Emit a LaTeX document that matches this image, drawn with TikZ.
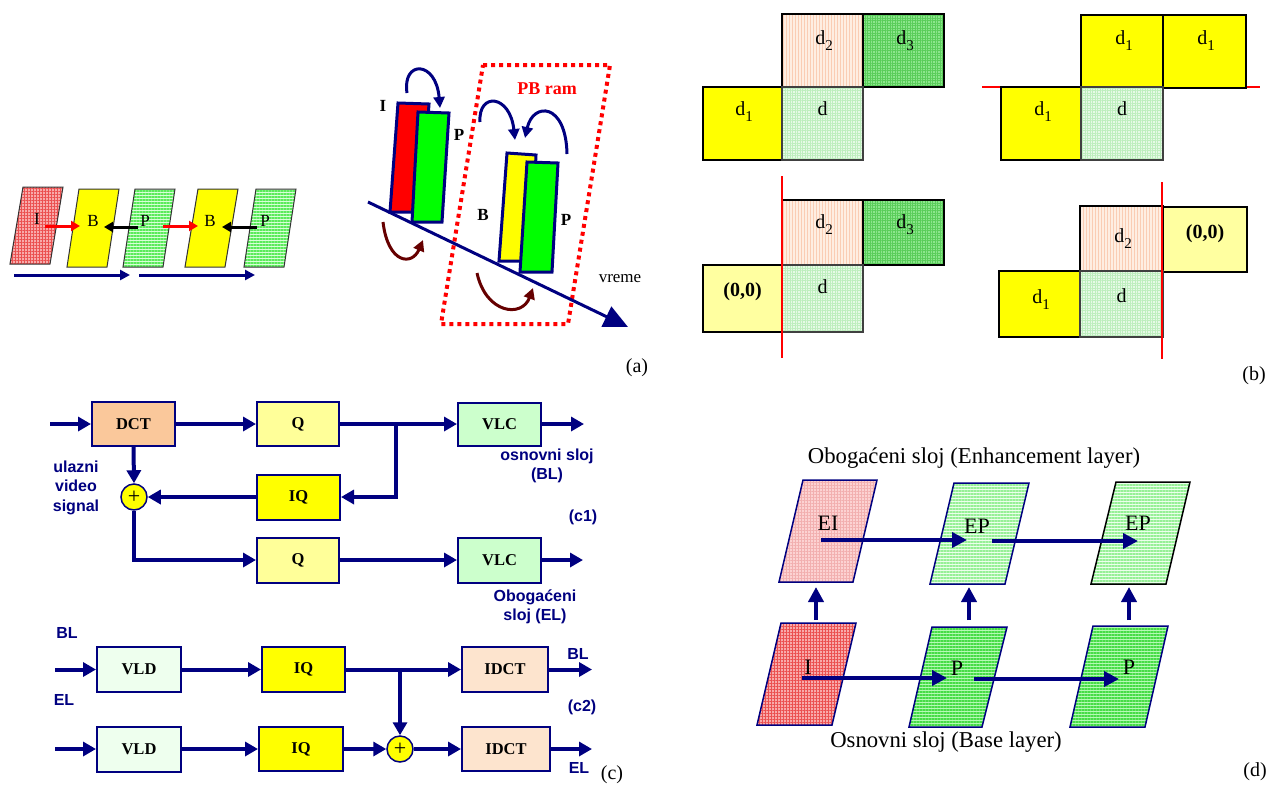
\documentclass[tikz,border=0pt]{standalone}
\usepackage{fontspec}
\setmainfont{Liberation Serif}
\setsansfont{Liberation Sans}
\usetikzlibrary{arrows.meta,patterns.meta}
\definecolor{navy}{RGB}{0,0,128}
\definecolor{brn}{RGB}{102,0,0}
\definecolor{cDCT}{RGB}{250,200,155}
\definecolor{cQ}{RGB}{255,255,153}
\definecolor{cVLC}{RGB}{204,255,204}
\definecolor{cVLD}{RGB}{238,255,238}
\definecolor{cIDCT}{RGB}{253,228,206}
\definecolor{yel}{RGB}{255,255,0}
\definecolor{lyel}{RGB}{255,255,160}
\definecolor{grn}{RGB}{0,255,0}
\definecolor{rd}{RGB}{255,0,0}
\definecolor{pinkA}{RGB}{248,170,170}
\definecolor{pinkAl}{RGB}{235,80,80}
\definecolor{pinkB}{RGB}{252,210,210}
\definecolor{pinkL}{RGB}{242,175,175}
\definecolor{gLt}{RGB}{215,255,215}
\definecolor{gLn}{RGB}{90,235,90}
\definecolor{gEP}{RGB}{235,255,235}
\definecolor{gEPl}{RGB}{150,240,150}
\definecolor{gP}{RGB}{180,250,180}
\definecolor{gPl}{RGB}{70,220,70}
\definecolor{peach}{RGB}{254,238,226}
\definecolor{peachL}{RGB}{250,205,180}
\definecolor{gD3}{RGB}{140,230,140}
\definecolor{gD3l}{RGB}{90,205,90}
\definecolor{gD}{RGB}{230,250,230}
\definecolor{gDl}{RGB}{190,238,190}
\newcommand{\dsub}[1]{d\raisebox{-6pt}{\fontsize{15}{15}\selectfont #1}}
\tikzset{
  txt/.style={inner sep=0pt, font=\fontsize{#1}{#1}\selectfont},
  btxt/.style={inner sep=0pt, font=\fontsize{#1}{#1}\selectfont\bfseries},
  blab/.style={inner sep=0pt, text=navy, align=center, font=\fontsize{16}{19.5}\selectfont\sffamily\bfseries},
  cbox/.style={draw=navy, line width=2pt, inner sep=0pt, font=\fontsize{16.5}{16.5}\selectfont\bfseries},
  sumn/.style={circle, draw=navy, line width=1.5pt, fill=yel, minimum size=26pt, inner sep=0pt, font=\fontsize{22}{22}\selectfont},
  nv/.style={draw=navy, line width=4pt, -{Triangle[length=13pt,width=14pt]}},
  nvd/.style={draw=navy, line width=4pt, -{Triangle[length=15pt,width=15pt]}},
  ra/.style={draw=rd, line width=3pt, -{Triangle[length=9pt,width=10pt]}},
  ka/.style={draw=black, line width=3pt, -{Triangle[length=9pt,width=10pt]}},
  ba/.style={draw=navy, line width=3pt, -{Triangle[length=10pt,width=10pt]}},
  ca/.style={line width=3pt, -{Triangle[length=11pt,width=11pt]}},
  para/.style={draw=black!80, line width=1pt},
  paran/.style={draw=navy, line width=1.5pt},
  frm/.style={draw=navy, line width=3pt},
  matI/.style={preaction={fill=pinkA}, preaction={pattern={Hatch[distance=3pt,line width=0.6pt]}, pattern color=pinkAl}},
  matEI/.style={preaction={fill=pinkB}, preaction={pattern={Hatch[distance=3pt,line width=0.5pt]}, pattern color=pinkL}},
  matPa/.style={preaction={fill=gLt}, preaction={pattern={Lines[angle=0,distance=3pt,line width=1.4pt]}, pattern color=gLn}},
  matEP/.style={preaction={fill=gEP}, preaction={pattern={Lines[angle=0,distance=3pt,line width=1.1pt]}, pattern color=gEPl}},
  matP/.style={preaction={fill=gP}, preaction={pattern={Lines[angle=0,distance=3pt,line width=1.4pt]}, pattern color=gPl}},
  matD2/.style={preaction={fill=peach}, preaction={pattern={Lines[angle=90,distance=3pt,line width=0.9pt]}, pattern color=peachL}},
  matD3/.style={preaction={fill=gD3}, preaction={pattern={Hatch[distance=2.5pt,line width=0.5pt]}, pattern color=gD3l}},
  matD/.style={preaction={fill=gD}, preaction={pattern={Hatch[distance=2.5pt,line width=0.5pt]}, pattern color=gDl}},
  bx/.style={draw=black, line width=2.2pt, inner sep=0pt},
  bxd/.style={draw=black!75, line width=1.6pt, inner sep=0pt},
  redl/.style={draw=rd, line width=1.5pt},
}
\begin{document}
\begin{tikzpicture}[x=1pt,y=-1pt]
\useasboundingbox (0,0) rectangle (1272,788);

% ================= (a) left =================
\path[para,matI]  (23,187) -- (63,187) -- (50,264) -- (10,264) -- cycle;
\path[para,fill=yel] (79,189) -- (119,189) -- (107,267) -- (67,267) -- cycle;
\path[para,matPa] (135,189) -- (175,189) -- (163,267) -- (123,267) -- cycle;
\path[para,fill=yel] (198,189) -- (238,189) -- (225,267) -- (185,267) -- cycle;
\path[para,matPa] (256,189) -- (296,189) -- (284,267) -- (244,267) -- cycle;
\node[txt=17] (lI) at (37,219) {I};
\node[txt=17] (lB1) at (93,221) {B};
\node[txt=17] (lP1) at (145,221) {P};
\node[txt=17] (lB2) at (210,221) {B};
\node[txt=17] (lP2) at (265,221) {P};
\coordinate (r1s) at (45,226); \coordinate (r1e) at (80,226);
\coordinate (r2s) at (163,226); \coordinate (r2e) at (198,226);
\coordinate (k1s) at (138,227); \coordinate (k1e) at (104,227);
\coordinate (k2s) at (257,227); \coordinate (k2e) at (222,227);
\draw[ra] (r1s) -- (r1e);
\draw[ra] (r2s) -- (r2e);
\draw[ka] (k1s) -- (k1e);
\draw[ka] (k2s) -- (k2e);
\coordinate (b1s) at (14,275); \coordinate (b1e) at (130,275);
\coordinate (b2s) at (139,275); \coordinate (b2e) at (255,275);
\draw[ba] (b1s) -- (b1e);
\draw[ba] (b2s) -- (b2e);

% ================= (a) right =================
\draw[rd, line width=4pt, dash pattern=on 4pt off 4pt] (483,65) -- (610,65) -- (568,324) -- (441,324) -- cycle;
\coordinate (t0) at (368,202); \coordinate (t1) at (628,327);
\draw[draw=navy, line width=3pt, -{Triangle[length=24pt,width=22pt]}] (t0) -- (t1);
\path[frm, fill=rd] (398,103) -- (429,104) -- (421,212) -- (390,212) -- cycle;
\path[frm, fill=grn] (418,112) -- (449,113) -- (442,222) -- (412,222) -- cycle;
\path[frm, fill=yel] (507,153) -- (536,155) -- (531,261) -- (499,261) -- cycle;
\path[frm, fill=grn] (527,162) -- (558,163) -- (552,272) -- (520,272) -- cycle;
\node[btxt=17] (aI) at (383,106) {I};
\node[btxt=17] (aP1) at (459,135) {P};
\node[btxt=17] (aB) at (483,215) {B};
\node[btxt=17] (aP2) at (566,220) {P};
\node[btxt=18, text=rd] (pbram) at (547,89) {PB ram};
\node[txt=17] (vreme) at (620,279) {vreme};
\node[txt=20] (la) at (637,368) {(a)};
\coordinate (u1s) at (407,93); \coordinate (u1e) at (440,108);
\coordinate (u2s) at (480,122); \coordinate (u2e) at (515,140);
\coordinate (u3s) at (567,154); \coordinate (u3e) at (525,138);
\draw[ca, navy] (u1s) .. controls (402,60) and (436,60) .. (u1e);
\draw[ca, navy] (u2s) .. controls (478,92) and (510,94) .. (u2e);
\draw[ca, navy] (u3s) .. controls (566,102) and (533,102) .. (u3e);
\coordinate (w1s) at (383,222); \coordinate (w1e) at (423,240);
\coordinate (w2s) at (477,273); \coordinate (w2e) at (533,288);
\draw[ca, brn] (w1s) .. controls (388,264) and (412,266) .. (w1e);
\draw[ca, brn] (w2s) .. controls (486,314) and (522,318) .. (w2e);

% ================= (b) =================
% top-left
\node[bx, matD2, minimum width=81pt, minimum height=73pt] (A2) at (822.5,50.5) {};
\node[bx, matD3, minimum width=81pt, minimum height=73pt] (A3) at (903.5,50.5) {};
\node[bx, fill=yel, minimum width=79pt, minimum height=73pt] (A1) at (742.5,123.5) {};
\node[bxd, matD, minimum width=81pt, minimum height=73pt] (A0) at (822.5,123.5) {};
\node[txt=20, anchor=base] (A2l) at (824,44) {\dsub{2}};
\node[txt=20, anchor=base] (A3l) at (905,44) {\dsub{3}};
\node[txt=20, anchor=base] (A1l) at (744,115) {\dsub{1}};
\node[txt=20, anchor=base] (A0l) at (822.5,115) {d};
% top-right
\draw[redl] (982,87) -- (1260,87);
\node[bx, fill=yel, minimum width=82pt, minimum height=72pt] (B1a) at (1122,51) {};
\node[bx, fill=yel, minimum width=83pt, minimum height=73pt] (B1b) at (1204.5,51.5) {};
\node[bx, fill=yel, minimum width=80pt, minimum height=73pt] (B1c) at (1041,123.5) {};
\node[bxd, matD, minimum width=82pt, minimum height=73pt] (B0) at (1122,123.5) {};
\node[txt=20, anchor=base] (B1al) at (1124,44) {\dsub{1}};
\node[txt=20, anchor=base] (B1bl) at (1206,44) {\dsub{1}};
\node[txt=20, anchor=base] (B1cl) at (1043,115) {\dsub{1}};
\node[txt=20, anchor=base] (B0l) at (1122,115) {d};
% bottom-left
\node[bx, matD2, minimum width=81pt, minimum height=65pt] (C2) at (822.5,232.5) {};
\node[bx, matD3, minimum width=81pt, minimum height=65pt] (C3) at (903.5,232.5) {};
\node[bx, fill=lyel, minimum width=79pt, minimum height=67pt] (C1) at (742.5,298.5) {};
\node[bxd, matD, minimum width=81pt, minimum height=67pt] (C0) at (822.5,298.5) {};
\draw[redl] (782,176) -- (782,358);
\node[txt=20, anchor=base] (C2l) at (824,228) {\dsub{2}};
\node[txt=20, anchor=base] (C3l) at (905,228) {\dsub{3}};
\node[btxt=20, anchor=base] (C1l) at (742.5,296) {(0,0)};
\node[txt=20, anchor=base] (C0l) at (822.5,293) {d};
% bottom-right
\node[bx, matD2, minimum width=83pt, minimum height=65pt] (D2) at (1121.5,238.5) {};
\node[bx, fill=lyel, minimum width=84pt, minimum height=65pt] (D00) at (1205,239.5) {};
\node[bx, fill=yel, minimum width=81pt, minimum height=66pt] (D1) at (1039.5,304) {};
\node[bxd, matD, minimum width=83pt, minimum height=66pt] (D0) at (1121.5,304) {};
\draw[redl] (1162,182) -- (1162,359);
\node[txt=20, anchor=base] (D2l) at (1123,242) {\dsub{2}};
\node[btxt=20, anchor=base] (D00l) at (1205,238) {(0,0)};
\node[txt=20, anchor=base] (D1l) at (1041,303) {\dsub{1}};
\node[txt=20, anchor=base] (D0l) at (1121.5,302) {d};
\node[txt=20] (lb) at (1254,376) {(b)};

% ================= (c1) =================
\node[cbox, fill=cDCT, minimum width=83pt, minimum height=44pt] (dct) at (133.5,424) {DCT};
\node[cbox, fill=cQ, minimum width=82pt, minimum height=44pt] (q1) at (298,424) {Q};
\node[cbox, fill=cVLC, minimum width=83pt, minimum height=43pt] (vlc1) at (499.5,424) {VLC};
\node[cbox, fill=yel, minimum width=83pt, minimum height=45pt] (iq1) at (298.5,497) {IQ};
\node[sumn] (s1) at (134,497) {+};
\node[cbox, fill=cQ, minimum width=82pt, minimum height=45pt] (q2) at (298,560) {Q};
\node[cbox, fill=cVLC, minimum width=83pt, minimum height=45pt] (vlc2) at (499.5,560) {VLC};
\coordinate (in0) at (50,424);
\coordinate (j1) at (396,424);
\coordinate (o1) at (584,424);
\coordinate (o2) at (583,560);
\draw[nv] (in0) -- (dct.west);
\draw[nv] (dct.east) -- (q1.west);
\draw[nv] (q1.east) -- (vlc1.west);
\draw[nv] (j1) |- (iq1.east);
\draw[nv] (vlc1.east) -- (o1);
\draw[nv] (dct.south) -- (s1.north);
\draw[nv] (iq1.west) -- (s1.east);
\draw[nv] (s1.south) |- (q2.west);
\draw[nv] (q2.east) -- (vlc2.west);
\draw[nv] (vlc2.east) -- (o2);
\node[blab] (lin) at (76,487.5) {ulazni\\video\\signal};
\node[blab] (lbl) at (547,466) {osnovni sloj\\(BL)};
\node[blab] (lc1) at (583,517) {(c1)};
\node[blab] (lel) at (535,607) {Obogaćeni\\sloj (EL)};

% ================= (c2) =================
\node[cbox, fill=cVLD, minimum width=84pt, minimum height=45pt] (vld1) at (139,669.5) {VLD};
\node[cbox, fill=yel, minimum width=83pt, minimum height=45pt] (iq2) at (303.5,669.5) {IQ};
\node[cbox, fill=cIDCT, minimum width=86pt, minimum height=45pt] (idct1) at (505,669.5) {IDCT};
\node[cbox, fill=cVLD, minimum width=84pt, minimum height=45pt] (vld2) at (139,749) {VLD};
\node[cbox, fill=yel, minimum width=84pt, minimum height=44pt] (iq3) at (301,749) {IQ};
\node[sumn] (s2) at (400,749) {+};
\node[cbox, fill=cIDCT, minimum width=88pt, minimum height=44pt] (idct2) at (506,749) {IDCT};
\coordinate (i1) at (55,669.5);
\coordinate (i2) at (55,749);
\coordinate (j2) at (400,669.5);
\coordinate (o3) at (592,669.5);
\coordinate (o4) at (592,749);
\draw[nv] (i1) -- (vld1.west);
\draw[nv] (vld1.east) -- (iq2.west);
\draw[nv] (iq2.east) -- (idct1.west);
\draw[nv] (j2) -- (s2.north);
\draw[nv] (idct1.east) -- (o3);
\draw[nv] (i2) -- (vld2.west);
\draw[nv] (vld2.east) -- (iq3.west);
\draw[nv] (iq3.east) -- (s2.west);
\draw[nv] (s2.east) -- (idct2.west);
\draw[nv] (idct2.east) -- (o4);
\node[blab] (lBLi) at (67,633) {BL};
\node[blab] (lELi) at (64,700) {EL};
\node[blab] (lBLo) at (578,654) {BL};
\node[blab] (lc2) at (582,707) {(c2)};
\node[blab] (lELo) at (579,768) {EL};
\node[txt=20] (lc) at (612,775) {(c)};

% ================= (d) =================
\path[paran, matEI] (803,480) -- (877,480) -- (853,582) -- (779,582) -- cycle;
\path[paran, matEP] (954,483) -- (1029,483) -- (1005,584) -- (930,584) -- cycle;
\path[para, draw=black, line width=1.5pt, matEP] (1116,482) -- (1190,482) -- (1166,584) -- (1091,584) -- cycle;
\path[paran, matI] (781,623) -- (856,623) -- (832,725) -- (757,725) -- cycle;
\path[paran, matP] (932,627) -- (1007,627) -- (982,727) -- (909,727) -- cycle;
\path[paran, matP] (1093,626) -- (1168,626) -- (1145,727) -- (1070,727) -- cycle;
\node[txt=22] (dEI) at (828,523) {EI};
\node[txt=22] (dEP1) at (977,526) {EP};
\node[txt=22] (dEP2) at (1138,523) {EP};
\node[txt=22] (dI) at (808,667) {I};
\node[txt=22] (dP1) at (957,668) {P};
\node[txt=22] (dP2) at (1129,667) {P};
\coordinate (e1s) at (821,540); \coordinate (e1e) at (967,540);
\coordinate (e2s) at (992,541); \coordinate (e2e) at (1138,541);
\coordinate (p1s) at (802,678); \coordinate (p1e) at (947,678);
\coordinate (p2s) at (974,679); \coordinate (p2e) at (1119,679);
\draw[nvd] (e1s) -- (e1e);
\draw[nvd] (e2s) -- (e2e);
\draw[nvd] (p1s) -- (p1e);
\draw[nvd] (p2s) -- (p2e);
\coordinate (v1s) at (816,620); \coordinate (v1e) at (816,587);
\coordinate (v2s) at (969,620); \coordinate (v2e) at (969,587);
\coordinate (v3s) at (1129,620); \coordinate (v3e) at (1129,587);
\draw[nvd] (v1s) -- (v1e);
\draw[nvd] (v2s) -- (v2e);
\draw[nvd] (v3s) -- (v3e);
\node[txt=22.7] (dtop) at (974,458) {Obogaćeni sloj (Enhancement layer)};
\node[txt=22.7] (dbot) at (946,742) {Osnovni sloj (Base layer)};
\node[txt=20] (ld) at (1255,772) {(d)};
\end{tikzpicture}
\end{document}
